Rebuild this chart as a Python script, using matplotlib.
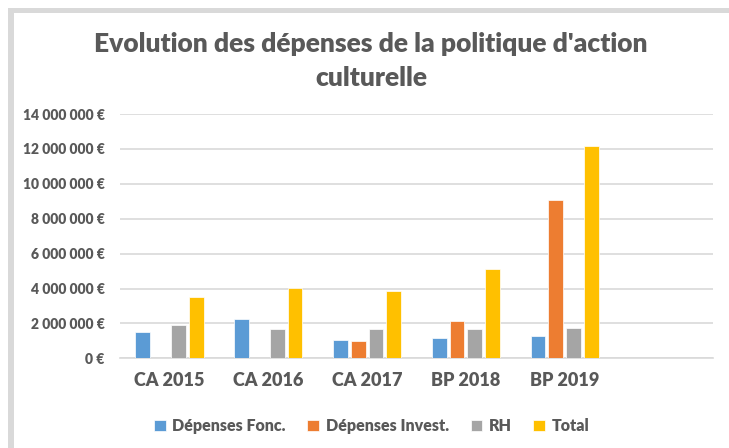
import matplotlib.pyplot as plt
import numpy as np
from matplotlib.patches import Rectangle
from matplotlib.ticker import FuncFormatter

categories = ["CA 2015", "CA 2016", "CA 2017", "BP 2018", "BP 2019", ""]
series_names = ["Dépenses Fonc.", "Dépenses Invest.", "RH", "Total"]
depenses_fonc = [1520000, 2230000, 1030000, 1180000, 1260000, np.nan]
depenses_invest = [np.nan, np.nan, 990000, 2120000, 9070000, np.nan]
rh = [1880000, 1700000, 1700000, 1700000, 1720000, np.nan]
total = [3490000, 4010000, 3860000, 5100000, 12170000, np.nan]
colors = ["#5B9BD5", "#ED7D31", "#A5A5A5", "#FFC000"]
txt = "#595959"
font = "Lato"

def euro(v, pos):
    return "{:,.0f} €".format(v).replace(",", " ")

fig = plt.figure(figsize=(7.29, 4.48), dpi=100)

# light grey frame (left and top edges)
fig.add_artist(Rectangle((8/729, 0), 6/729, 1 - 8/448, transform=fig.transFigure,
                         facecolor="#d9d9d9", edgecolor="none"))
fig.add_artist(Rectangle((8/729, 1 - 13/448), 1, 5/448, transform=fig.transFigure,
                         facecolor="#d9d9d9", edgecolor="none"))

ax = fig.add_axes([120/729, 1 - 358.3/448, (713 - 120)/729, (358.3 - 114)/448])

x = np.arange(len(categories))
step = 0.18
width = 0.15
all_series = [depenses_fonc, depenses_invest, rh, total]
for i, vals in enumerate(all_series):
    ax.bar(x + (i - 1.5) * step, vals, width, color=colors[i], label=series_names[i],
           edgecolor="white", linewidth=0.5, zorder=3)

ax.set_xlim(-0.5, len(categories) - 0.5)
ax.set_ylim(0, 14000000)
ax.set_yticks(np.arange(0, 14000001, 2000000))
ax.yaxis.set_major_formatter(FuncFormatter(euro))
ax.set_xticks(x)
ax.set_xticklabels(categories)
ax.grid(axis="y", color="#d9d9d9", linewidth=1.2, zorder=0)
for s in ["top", "right", "left"]:
    ax.spines[s].set_visible(False)
ax.spines["bottom"].set_color("#d9d9d9")
ax.spines["bottom"].set_linewidth(1.2)
ax.tick_params(length=0)
ax.tick_params(axis="y", pad=11)
ax.tick_params(axis="x", pad=10)
for lab in ax.get_yticklabels():
    lab.set_fontfamily(font)
    lab.set_fontweight("heavy")
    lab.set_fontsize(10)
    lab.set_color(txt)
for lab in ax.get_xticklabels():
    lab.set_fontfamily(font)
    lab.set_fontweight("heavy")
    lab.set_fontsize(13)
    lab.set_color(txt)

fig.text(0.509, 1 - 61/448, "Evolution des dépenses de la politique d'action\nculturelle",
         ha="center", va="center", fontsize=19, fontweight="heavy", family=font,
         color=txt, linespacing=1.45)

leg = fig.legend(loc="center", bbox_to_anchor=(0.51, 1 - 426/448), ncol=4, frameon=False,
                 prop={"family": font, "weight": "heavy", "size": 11.5},
                 handlelength=0.75, handleheight=0.75, handletextpad=0.4, columnspacing=1.35)
for t in leg.get_texts():
    t.set_color(txt)

plt.savefig("out.png", dpi=100)
